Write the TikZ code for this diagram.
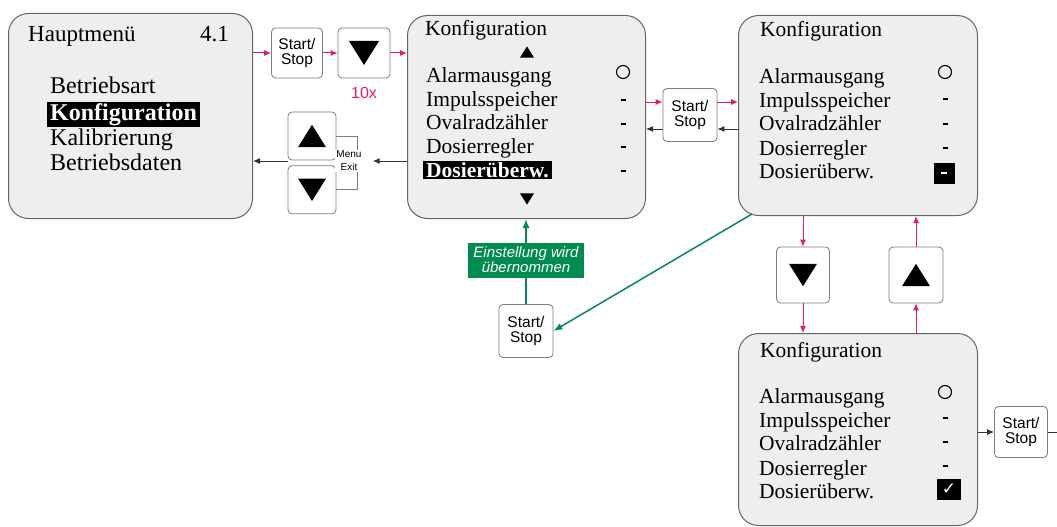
\documentclass[tikz,border=0pt]{standalone}
\usepackage{fontspec}
\setmainfont{Liberation Serif}
\setsansfont{Liberation Sans}
\newfontfamily\dejavu{DejaVu Sans}
\usepackage{tikz}
\usetikzlibrary{arrows.meta, calc, positioning}
\definecolor{BoxGray}{RGB}{238, 238, 238}
\definecolor{FrameGray}{RGB}{100, 100, 100}
\definecolor{KeyFrame}{RGB}{125, 125, 125}
\definecolor{SignalRed}{RGB}{228, 30, 90}
\definecolor{AcceptGreen}{RGB}{0, 140, 80}

% filled key triangles round a node centre
\newcommand{\keytridown}[2]{\fill ($(#1)+(-#2,-0.8*#2)$) -- ($(#1)+(#2,-0.8*#2)$) -- ($(#1)+(0,0.8*#2)$) -- cycle;}
\newcommand{\keytriup}[2]{\fill ($(#1)+(-#2,0.8*#2)$) -- ($(#1)+(#2,0.8*#2)$) -- ($(#1)+(0,-0.8*#2)$) -- cycle;}

\begin{document}
\begin{tikzpicture}[
        x = 1pt, y = -1pt,
        menubox/.style = {draw=FrameGray, fill=BoxGray, line width=1pt, rounded corners=20pt, anchor=north west, inner sep=0pt},
        keybox/.style = {draw=KeyFrame, fill=white, line width=0.8pt, rounded corners=4pt, inner sep=0pt, align=center, font=\sffamily\fontsize{15.5}{14.5}\selectfont},
        menutitle/.style = {anchor=base west, inner sep=0pt, font=\fontsize{21.5}{24}\selectfont},
        menuentry/.style = {anchor=base west, inner sep=0pt, font=\fontsize{21.5}{24}\selectfont},
        mainentry/.style = {anchor=base west, inner sep=0pt, font=\fontsize{24}{25}\selectfont},
        hilite/.style = {anchor=base west, fill=black, text=white, inner xsep=3pt, inner ysep=1.5pt},
        ring/.style = {circle, draw, line width=1.1pt, minimum size=13pt, inner sep=0pt},
        nomark/.style = {fill=black, minimum width=5pt, minimum height=1.8pt, inner sep=0pt},
        markbox/.style = {fill=black, text=white, minimum width=21pt, minimum height=21pt, inner sep=0pt},
        redline/.style = {draw=SignalRed, line width=1pt, -{Latex[length=7pt, width=6pt]}},
        line/.style = {draw=black!80, line width=1pt, -{Latex[length=7pt, width=6pt]}},
        greenline/.style = {draw=AcceptGreen, line width=1.5pt, -{Latex[length=9pt, width=7pt]}}
    ]
        \useasboundingbox (0,0) rectangle (1057,527);

        % Hauptmenue
        \node (haupt) [menubox, minimum width=244pt, minimum height=205pt] at (8,13) {};
        \node (haupt_title) [anchor=base west, inner sep=0pt, font=\fontsize{23}{25}\selectfont] at (28,42) {Hauptmenü};
        \node (haupt_nr) [anchor=base east, inner sep=0pt, font=\fontsize{23}{25}\selectfont] at (229,42) {4.1};
        \node (haupt_a) [mainentry] at (50,93) {Betriebsart};
        \node (haupt_b) [hilite, font=\bfseries\fontsize{24}{25}\selectfont] at (47,120) {Konfiguration};
        \node (haupt_c) [mainentry] at (50,145) {Kalibrierung};
        \node (haupt_d) [mainentry] at (50,170) {Betriebsdaten};

        % Konfiguration, cursor on Dosierueberw.
        \node (konf) [menubox, minimum width=238pt, minimum height=203pt] at (407,15) {};
        \node (konf_title) [menutitle] at (425,36) {Konfiguration};
        \coordinate (konf_up) at (527,52);
        \keytriup{konf_up}{7}
        \node (konf_a) [menuentry] at (426,82) {Alarmausgang};
        \node (konf_b) [menuentry] at (426,106) {Impulsspeicher};
        \node (konf_c) [menuentry] at (426,129) {Ovalradzähler};
        \node (konf_d) [menuentry] at (426,153) {Dosierregler};
        \node (konf_e) [hilite, font=\bfseries\fontsize{21.5}{24}\selectfont] at (423,177) {Dosierüberw.};
        \node (konf_ma) [ring] at (623,72) {};
        \node (konf_mb) [nomark] at (623,100) {};
        \node (konf_mc) [nomark] at (623,124) {};
        \node (konf_md) [nomark] at (623,147) {};
        \node (konf_me) [nomark] at (623,171) {};
        \coordinate (konf_dn) at (527,199);
        \keytridown{konf_dn}{7}

        % Konfiguration, selection open
        \node (sel) [menubox, minimum width=239pt, minimum height=200pt] at (738,15) {};
        \node (sel_title) [menutitle] at (760,37) {Konfiguration};
        \node (sel_a) [menuentry] at (759,83) {Alarmausgang};
        \node (sel_b) [menuentry] at (759,107) {Impulsspeicher};
        \node (sel_c) [menuentry] at (759,130) {Ovalradzähler};
        \node (sel_d) [menuentry] at (759,155) {Dosierregler};
        \node (sel_e) [menuentry] at (759,178) {Dosierüberw.};
        \node (sel_ma) [ring] at (945,72) {};
        \node (sel_mb) [nomark] at (945,99) {};
        \node (sel_mc) [nomark] at (945,124) {};
        \node (sel_md) [nomark] at (945,148) {};
        \node (sel_me) [markbox] at (944,173) {};
        \draw [white, line width=1.6pt] ([xshift=-3pt]sel_me.center) -- ([xshift=3pt]sel_me.center);

        % Konfiguration, ticked
        \node (chk) [menubox, minimum width=239pt, minimum height=192pt] at (738,333) {};
        \node (chk_title) [menutitle] at (760,357) {Konfiguration};
        \node (chk_a) [menuentry] at (759,403) {Alarmausgang};
        \node (chk_b) [menuentry] at (759,427) {Impulsspeicher};
        \node (chk_c) [menuentry] at (759,450) {Ovalradzähler};
        \node (chk_d) [menuentry] at (759,475) {Dosierregler};
        \node (chk_e) [menuentry] at (759,498) {Dosierüberw.};
        \node (chk_ma) [ring] at (945,392) {};
        \node (chk_mb) [nomark] at (945,418) {};
        \node (chk_mc) [nomark] at (945,442) {};
        \node (chk_md) [nomark] at (945,466) {};
        \node (chk_me) [markbox, minimum width=24pt, minimum height=21pt, font=\dejavu\bfseries\fontsize{17}{17}\selectfont] at (949,489) {✓};

        % Keys
        \node (start_a) [keybox, minimum width=51pt, minimum height=50pt] at (297,53) {Start/\\Stop};
        \node (down_a) [keybox, minimum width=52pt, minimum height=50pt] at (364,53) {};
        \keytridown{down_a}{15}
        \node (ten) [below=9pt of down_a, inner sep=0pt, text=SignalRed, font=\sffamily\fontsize{16}{16}\selectfont] {10x};

        \node (up_b) [keybox, minimum width=48pt, minimum height=48pt] at (312,136) {};
        \keytriup{up_b}{14}
        \node (down_b) [keybox, minimum width=48pt, minimum height=48pt, below=5pt of up_b] {};
        \keytridown{down_b}{14}
        \draw [KeyFrame, line width=0.7pt] (up_b.east) -- ++(21,0) |- (down_b.east);
        \node (menuexit) [fill=white, inner sep=1pt, align=center, font=\sffamily\fontsize{10}{13}\selectfont] at (349,161) {Menu\\Exit};

        \node (start_b) [keybox, minimum width=54pt, minimum height=53pt] at (690,115) {Start/\\Stop};
        \node (down_c) [keybox, minimum width=53pt, minimum height=56pt] at (803,275) {};
        \keytridown{down_c}{14}
        \node (up_c) [keybox, minimum width=54pt, minimum height=56pt] at (916,275) {};
        \keytriup{up_c}{14}
        \node (start_c) [keybox, minimum width=53pt, minimum height=51pt] at (1021,432) {Start/\\Stop};
        \node (start_d) [keybox, minimum width=54pt, minimum height=53pt] at (526,331) {Start/\\Stop};

        % Into the menu
        \draw [redline] (haupt.east |- start_a) -- (start_a);
        \draw [redline] (start_a) -- (down_a);
        \draw [redline] (down_a) -- (down_a -| konf.west);

        % Back to the main menu
        \draw [line] (konf.west |- menuexit) -- ([xshift=10pt]menuexit.east);
        \draw [line] (up_b.west |- menuexit) -- (haupt.east |- menuexit);

        % Open and close the selection
        \draw [redline] ([yshift=13pt]start_b.west -| konf.east) -- ([yshift=13pt]start_b.west);
        \draw [redline] ([yshift=13pt]start_b.east) -- ([yshift=13pt]start_b.east -| sel.west);
        \draw [line] ([yshift=-14pt]start_b.east -| sel.west) -- ([yshift=-14pt]start_b.east);
        \draw [line] ([yshift=-14pt]start_b.west) -- ([yshift=-14pt]start_b.west -| konf.east);

        % Tick and untick
        \draw [redline] (down_c |- sel.south) -- (down_c);
        \draw [redline] (down_c) -- (down_c |- chk.north);
        \draw [redline] (up_c |- chk.north) -- (up_c);
        \draw [redline] (up_c) -- (up_c |- sel.south);

        \draw [line] (chk.east |- start_c) -- (start_c);
        \coordinate (rim) at (1057,432);
        \draw [draw=black!80, line width=1pt] (start_c) -- (rim);

        % Accept setting
        \draw [greenline] ($(sel.south west)+(14,-2)$) -- (start_d.east);
        \draw [greenline] (start_d) -- (start_d |- konf.south);
        \node (accept) [fill=AcceptGreen, text=white, minimum width=116pt, minimum height=35pt, inner sep=0pt, align=center, font=\sffamily\itshape\fontsize{15}{15}\selectfont] at (526,260) {Einstellung wird\\übernommen};

    \end{tikzpicture}
\end{document}
